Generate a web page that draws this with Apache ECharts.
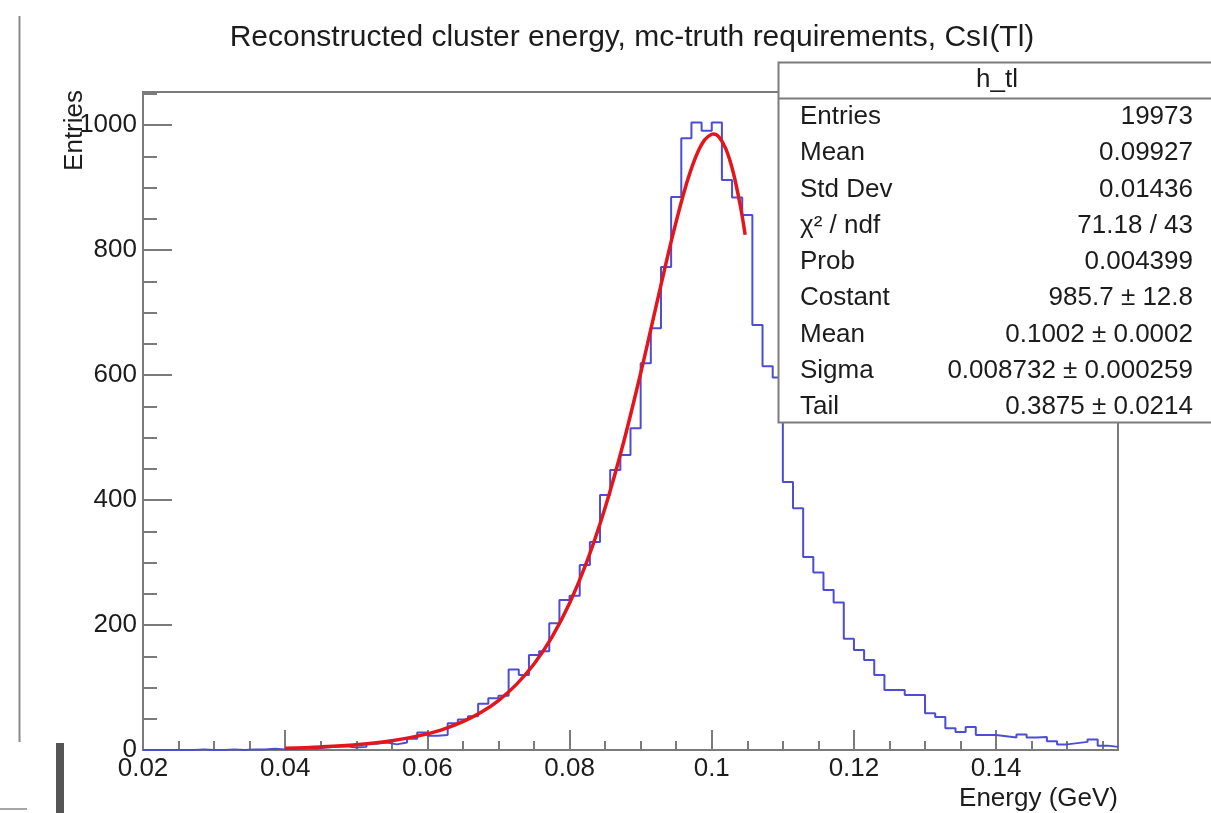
<!DOCTYPE html>
<html>
<head>
<meta charset="utf-8">
<script src="https://cdn.jsdelivr.net/npm/echarts@6/dist/echarts.min.js"></script>
<style>
html,body{margin:0;padding:0;background:#ffffff;}
#chart{width:1211px;height:813px;}
</style>
</head>
<body>
<div id="chart"></div>
<script>
// ---- data ----
const titleText = 'Reconstructed cluster energy, mc-truth requirements, CsI(Tl)';
const xAxisTitle = 'Energy (GeV)';
const yAxisTitle = 'Entries';
const histName = 'h_tl';

// histogram binning (GeV)
const binLow = 0.02;
const binWidth = 1 / 700;
const xMin = 0.02;
const xMax = 110 / 700;
const xInterval = 0.02;
const yMin = 0;
const yMax = 1053;
const yInterval = 200;

// bin contents, one per bin starting at binLow
const counts = [
  0, 0, 0, 0, 0, 1, 0, 0, 1, 0,
  1, 1, 2, 1, 2, 3, 2, 4, 5, 6,
  4, 5, 10, 12, 9, 12, 18, 28, 23, 24,
  43, 49, 54, 74, 83, 87, 129, 120, 152, 158,
  203, 240, 247, 296, 333, 408, 448, 472, 515, 619,
  675, 773, 885, 979, 1004, 991, 1004, 912, 884, 856,
  680, 614, 596, 429, 387, 309, 284, 256, 236, 178,
  160, 144, 120, 96, 96, 88, 88, 59, 53, 35,
  29, 37, 24, 24, 22, 20, 25, 20, 21, 14,
  9, 11, 13, 17, 7, 5
];

// fitted curve, sampled points (energy, entries)
const fitX = [0.04, 0.045, 0.05, 0.055, 0.06, 0.0625, 0.065, 0.0675, 0.07, 0.0725,
  0.075, 0.0775, 0.08, 0.0825, 0.085, 0.0875, 0.09, 0.0915, 0.093, 0.0945,
  0.096, 0.097, 0.098, 0.099, 0.1, 0.1002, 0.101, 0.102, 0.103, 0.104, 0.1047];
const fitY = [2.8, 4.9, 8.4, 14.7, 25.8, 34.2, 45.3, 59.9, 79.2, 104.6,
  137.6, 180.3, 234.8, 303.3, 387.5, 488.0, 602.9, 676.6, 751.1, 823.3,
  888.7, 925.9, 955.8, 976.3, 985.4, 985.7, 981.1, 961.6, 925.4, 872.1, 824.6];

// statistics box
const statLabels = ['Entries', 'Mean', 'Std Dev', 'χ² / ndf', 'Prob', 'Costant', 'Mean', 'Sigma', 'Tail'];
const statValues = ['19973', '0.09927', '0.01436', '71.18 / 43', '0.004399',
  '985.7 ± 12.8', '0.1002 ± 0.0002', '0.008732 ± 0.000259', '0.3875 ± 0.0214'];

// ---- build chart ----
const FONT = '"Liberation Sans", Arial, Helvetica, sans-serif';
const AXC = '#7b7b7b';
const TXC = '#1c1c1c';

const histData = counts.map((c, i) => [binLow + i * binWidth, c]);
histData.push([binLow + counts.length * binWidth, counts[counts.length - 1]]);
const fitData = fitX.map((x, i) => [x, fitY[i]]);

const chart = echarts.init(document.getElementById('chart'), null, {renderer: 'canvas'});

const graphics = [];
// title
graphics.push({type: 'text', x: 632, y: 38, z: 100,
  style: {text: titleText, fill: TXC, font: '30px ' + FONT, textAlign: 'center', textVerticalAlign: 'middle'}});
// y title (rotated)
graphics.push({type: 'text', x: 75, y: 90, rotation: Math.PI / 2, z: 100,
  style: {text: yAxisTitle, fill: TXC, font: '26px ' + FONT, textAlign: 'right', textVerticalAlign: 'middle'}});
// x title
graphics.push({type: 'text', x: 1118, y: 799, z: 100,
  style: {text: xAxisTitle, fill: TXC, font: '26px ' + FONT, textAlign: 'right', textVerticalAlign: 'middle'}});
// stats box
graphics.push({type: 'rect', z: 100, shape: {x: 778.5, y: 62.5, width: 460, height: 360},
  style: {fill: '#ffffff', stroke: '#7d7d7d', lineWidth: 2}});
graphics.push({type: 'line', z: 101, shape: {x1: 778.5, y1: 98.5, x2: 1211, y2: 98.5},
  style: {stroke: '#7d7d7d', lineWidth: 2}});
graphics.push({type: 'text', x: 997, y: 80, z: 102,
  style: {text: histName, fill: TXC, font: '26px ' + FONT, textAlign: 'center', textVerticalAlign: 'middle'}});
statLabels.forEach((lab, i) => {
  const yy = 117 + i * 36.25;
  graphics.push({type: 'text', x: 800, y: yy, z: 102,
    style: {text: lab, fill: TXC, font: '26px ' + FONT, textAlign: 'left', textVerticalAlign: 'middle'}});
  graphics.push({type: 'text', x: 1193, y: yy, z: 102,
    style: {text: statValues[i], fill: TXC, font: '26px ' + FONT, textAlign: 'right', textVerticalAlign: 'middle'}});
});
// screenshot edge artifacts
graphics.push({type: 'line', z: 100, shape: {x1: 19.5, y1: 16, x2: 19.5, y2: 742},
  style: {stroke: '#8a8a8a', lineWidth: 2}});
graphics.push({type: 'rect', z: 100, shape: {x: 56, y: 743, width: 8, height: 70},
  style: {fill: '#555555'}});
graphics.push({type: 'line', z: 100, shape: {x1: 0, y1: 809, x2: 27, y2: 809},
  style: {stroke: '#8a8a8a', lineWidth: 1.5}});

const option = {
  animation: false,
  backgroundColor: '#ffffff',
  grid: {left: 143, right: 93, top: 92, bottom: 63, show: true,
    borderColor: AXC, borderWidth: 2, backgroundColor: 'transparent', containLabel: false, outerBoundsMode: 'none'},
  xAxis: {
    type: 'value', min: xMin, max: xMax, interval: xInterval,
    axisLine: {show: true, onZero: false, lineStyle: {color: AXC, width: 2}},
    axisTick: {show: true, inside: true, length: 20, lineStyle: {color: AXC, width: 2}},
    minorTick: {show: true, splitNumber: 4, length: 9, lineStyle: {color: AXC, width: 2}},
    splitLine: {show: false},
    axisLabel: {show: true, margin: 6, color: TXC, fontSize: 26, fontFamily: FONT,
      showMaxLabel: false, hideOverlap: false,
      formatter: v => String(+v.toFixed(4))}
  },
  yAxis: {
    type: 'value', min: yMin, max: yMax, interval: yInterval,
    axisLine: {show: true, lineStyle: {color: AXC, width: 2}},
    axisTick: {show: true, inside: true, length: 29, lineStyle: {color: AXC, width: 2}},
    minorTick: {show: true, splitNumber: 4, length: 14, lineStyle: {color: AXC, width: 2}},
    splitLine: {show: false},
    axisLabel: {show: true, margin: 6, color: TXC, fontSize: 26, fontFamily: FONT,
      showMaxLabel: false, hideOverlap: false,
      formatter: v => String(Math.round(v))}
  },
  graphic: graphics,
  series: [
    {
      type: 'line', name: 'hist', data: histData, step: 'end',
      showSymbol: false, symbol: 'none', clip: true, z: 3,
      lineStyle: {color: '#4d4dd4', width: 2}
    },
    {
      type: 'line', name: 'fit', data: fitData, smooth: 0.35,
      showSymbol: false, symbol: 'none', clip: true, z: 4,
      lineStyle: {color: '#e3161b', width: 3.5}
    }
  ]
};
chart.setOption(option);
</script>
</body>
</html>
